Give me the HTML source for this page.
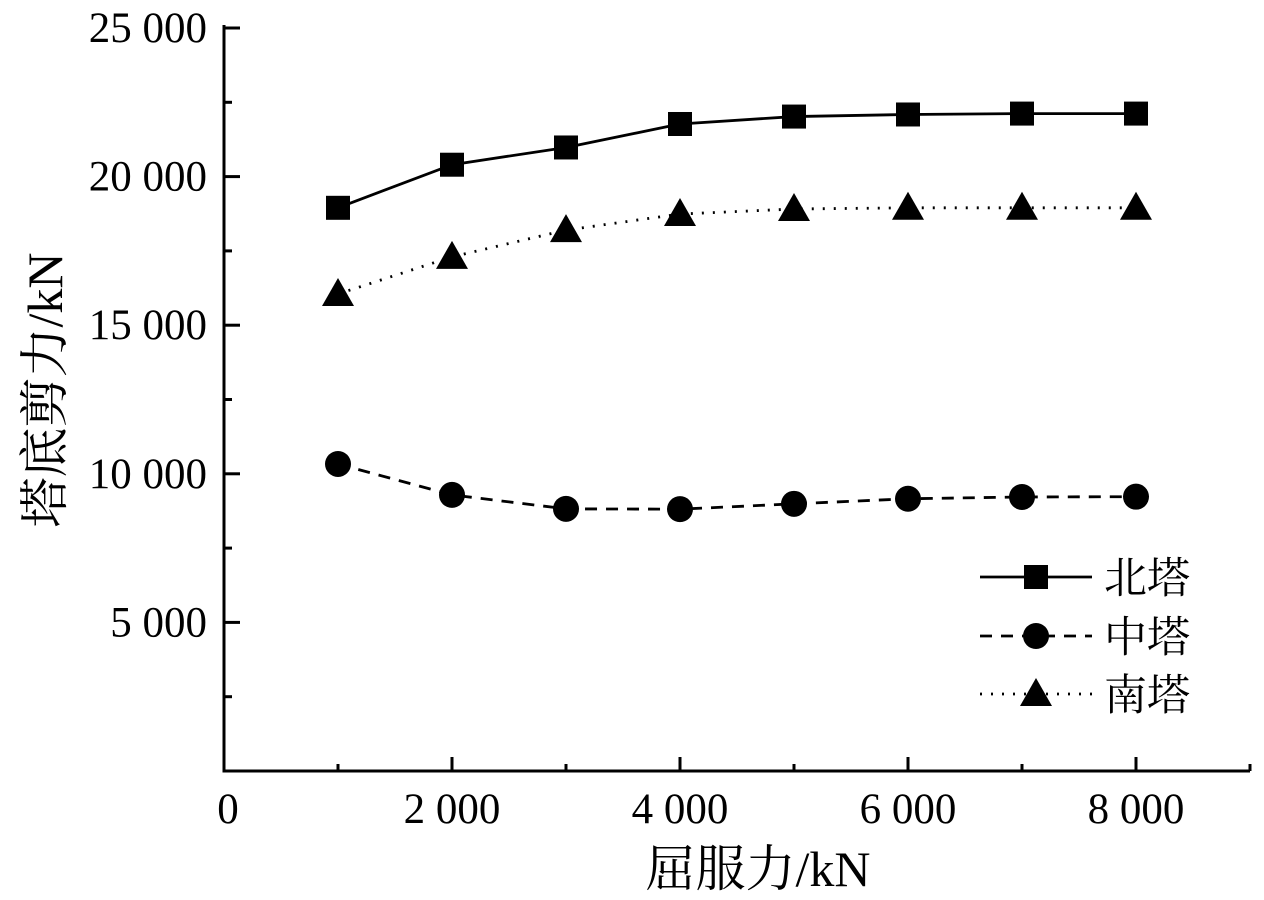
<!DOCTYPE html>
<html><head><meta charset="utf-8"><style>
body{margin:0;background:#fff}
svg{display:block}
text{font-family:"Liberation Serif","Noto Serif CJK SC",serif;fill:#000}
</style></head><body>
<svg id="c" width="1264" height="900"></svg>
<script>
const xVals=[1000,2000,3000,4000,5000,6000,7000,8000];
const north=[18950,20400,20980,21770,22020,22090,22120,22120];
const middle=[10330,9290,8820,8810,8990,9160,9220,9230];
const south=[16050,17300,18200,18740,18910,18950,18950,18950];
const xTicks=[0,2000,4000,6000,8000];
const xTickLabels=["0","2 000","4 000","6 000","8 000"];
const yTicks=[5000,10000,15000,20000,25000];
const yTickLabels=["5 000","10 000","15 000","20 000","25 000"];
const NS="http://www.w3.org/2000/svg";
const svg=document.getElementById('c');
const X0=224,Y0=771,PX=114/1000,PY=148.6/5000;
const sx=v=>X0+v*PX, sy=v=>Y0-v*PY;
function el(t,a,p){const e=document.createElementNS(NS,t);for(const k in a)e.setAttribute(k,a[k]);(p||svg).appendChild(e);return e;}
let ax=el('path',{d:`M${X0} 25 V${Y0} H${sx(9000)}`,fill:'none',stroke:'#000','stroke-width':3});


for(let v=1000;v<=9000;v+=1000){const big=v%2000===0;const t=el('line',{x1:sx(v),x2:sx(v),y1:Y0,y2:Y0-(big?14:7),stroke:'#000','stroke-width':3});

}
for(let v=2500;v<=25000;v+=2500){const big=v%5000===0;const t=el('line',{x1:X0,x2:X0+(big?16:8),y1:sy(v),y2:sy(v),stroke:'#000','stroke-width':3});

}
xTicks.forEach((v,i)=>{const t=el('text',{x:sx(v)+(v===0?4:0),y:823,'text-anchor':'middle','font-size':43});t.textContent=xTickLabels[i];

});
yTicks.forEach((v,i)=>{const t=el('text',{x:207,y:sy(v)+14,'text-anchor':'end','font-size':43});t.textContent=yTickLabels[i];

});
let xt=el('text',{x:758,y:886,'text-anchor':'middle','font-size':50});xt.textContent='屈服力/kN';


let yt=el('text',{x:0,y:0,'text-anchor':'middle','font-size':50,transform:'translate(62,390) rotate(-90)'});yt.textContent='塔底剪力/kN';


function marker(kind,x,y,name){let m;
if(kind==='sq')m=el('rect',{x:x-12,y:y-12,width:24,height:24,fill:'#000'});
else if(kind==='ci')m=el('circle',{cx:x,cy:y,r:13,fill:'#000'});
else m=el('polygon',{points:`${x},${y-16} ${x-16},${y+12} ${x+16},${y+12}`,fill:'#000'});

}
const series=[[north,'sq','','north'],[middle,'ci','12 9','middle'],[south,'tr','2 9','south']];
series.forEach(([d,k,dash,n])=>{
 const l=el('polyline',{points:d.map((v,i)=>sx(xVals[i])+','+sy(v)).join(' '),fill:'none',stroke:'#000','stroke-width':2.8,'stroke-dasharray':dash});
 
 
 d.forEach((v,i)=>marker(k,sx(xVals[i]),sy(v),n+'-point'));
});
const leg=[['北塔','sq','',577],['中塔','ci','12 9',636],['南塔','tr','2 9',694]];
leg.forEach(([t,k,dash,y])=>{
 const l=el('line',{x1:980,x2:1092,y1:y,y2:y,stroke:'#000','stroke-width':2.8,'stroke-dasharray':dash});
 
 
 marker(k,1036,y,'legend-marker');
 const tx=el('text',{x:1104,y:y+16,'font-size':43});tx.textContent=t;
 
 
});
</script>
</body></html>
